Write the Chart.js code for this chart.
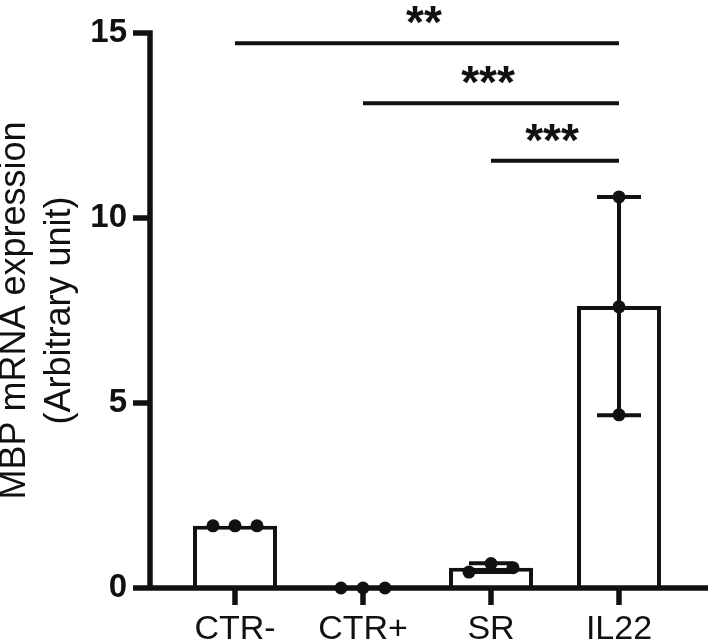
<!DOCTYPE html>
<html lang="en">
<head>
    <meta charset="UTF-8">
    <title>MBP mRNA expression</title>
    <style>
        html, body { margin: 0; padding: 0; background: #fff; }
        #wrap { width: 712px; height: 642px; }
    </style>
</head>
<body>
    <div id="wrap">
        <canvas id="myChart" width="712" height="642"></canvas>
    </div>

    <script src="https://cdn.jsdelivr.net/npm/chart.js"></script>

    <script>
        // groups and values
        const groups = ['CTR-', 'CTR+', 'SR', 'IL22'];
        const means = [1.68, 0, 0.55, 7.62];
        const sds = [0, 0, 0.12, 2.95];
        const replicates = [
            [1.68, 1.68, 1.68],
            [0, 0, 0],
            [0.43, 0.66, 0.55],
            [10.57, 7.6, 4.68]
        ];
        const yTicks = [0, 5, 10, 15];

        // significance brackets
        const sigFrom = [0, 1, 2];
        const sigTo = [3, 3, 3];
        const sigLevel = [14.72, 13.1, 11.55];
        const sigText = ['**', '***', '***'];

        const ink = '#111';
        const font = "'Liberation Sans', Arial, sans-serif";

        const prismAxes = {
            id: 'prismAxes',
            afterDatasetsDraw(chart) {
                const ctx = chart.ctx;
                const area = chart.chartArea;
                const y = chart.scales.y;
                const x = chart.scales.x;
                const axisX = area.left - 21;
                const base = y.getPixelForValue(0);

                ctx.save();
                ctx.strokeStyle = ink;
                ctx.fillStyle = ink;
                ctx.lineCap = 'butt';

                // error bars (mean +/- SD)
                ctx.lineWidth = 4;
                for (let i = 0; i < groups.length; i++) {
                    if (!sds[i]) continue;
                    const cx = x.getPixelForValue(i);
                    const hi = y.getPixelForValue(means[i] + sds[i]);
                    const lo = y.getPixelForValue(means[i] - sds[i]);
                    ctx.beginPath();
                    ctx.moveTo(cx, hi); ctx.lineTo(cx, lo);
                    ctx.moveTo(cx - 22, hi); ctx.lineTo(cx + 22, hi);
                    ctx.moveTo(cx - 22, lo); ctx.lineTo(cx + 22, lo);
                    ctx.stroke();
                }

                // axes
                ctx.lineWidth = 5.5;
                ctx.beginPath();
                ctx.moveTo(axisX, y.getPixelForValue(15) - 2.75);
                ctx.lineTo(axisX, base);
                ctx.moveTo(axisX - 17, base);
                ctx.lineTo(area.right + 25, base);
                for (const t of yTicks) {
                    const py = y.getPixelForValue(t);
                    ctx.moveTo(axisX - 17, py);
                    ctx.lineTo(axisX, py);
                }
                for (let i = 0; i < groups.length; i++) {
                    const px = x.getPixelForValue(i);
                    ctx.moveTo(px, base);
                    ctx.lineTo(px, base + 17);
                }
                ctx.stroke();

                // replicate dots; spread sideways only when they would overlap
                for (let i = 0; i < replicates.length; i++) {
                    const cx = x.getPixelForValue(i);
                    const vals = replicates[i];
                    const crowded = Math.max(...vals) - Math.min(...vals) < 1;
                    for (let j = 0; j < vals.length; j++) {
                        const dx = crowded ? (j - 1) * 22 : 0;
                        ctx.beginPath();
                        ctx.arc(cx + dx, y.getPixelForValue(vals[j]), 6.5, 0, Math.PI * 2);
                        ctx.fill();
                    }
                }

                // significance lines and stars
                ctx.lineWidth = 4;
                ctx.font = 'bold 46px ' + font;
                ctx.textAlign = 'center';
                ctx.textBaseline = 'alphabetic';
                for (let k = 0; k < sigText.length; k++) {
                    const x0 = x.getPixelForValue(sigFrom[k]);
                    const x1 = x.getPixelForValue(sigTo[k]);
                    const py = y.getPixelForValue(sigLevel[k]);
                    ctx.beginPath();
                    ctx.moveTo(x0, py);
                    ctx.lineTo(x1, py);
                    ctx.stroke();
                    ctx.fillText(sigText[k], (x0 + x1) / 2 - 3, py - 5);
                }
                ctx.restore();
            }
        };

        new Chart(document.getElementById('myChart'), {
            type: 'bar',
            data: {
                labels: groups,
                datasets: [{
                    data: means,
                    backgroundColor: '#fff',
                    borderColor: ink,
                    borderWidth: 4,
                    borderSkipped: 'start',
                    barPercentage: 0.656,
                    categoryPercentage: 1
                }]
            },
            options: {
                responsive: false,
                animation: false,
                layout: { padding: { top: 33, right: 29, left: 0, bottom: 0 } },
                plugins: {
                    legend: { display: false },
                    tooltip: { enabled: false }
                },
                scales: {
                    x: {
                        grid: { display: false, drawTicks: false },
                        border: { display: false },
                        ticks: {
                            color: ink,
                            padding: 21,
                            font: { family: font, size: 34 }
                        },
                        afterFit: (s) => { s.height = 54; }
                    },
                    y: {
                        min: 0,
                        max: 15,
                        grid: { display: false, drawTicks: false },
                        border: { display: false },
                        ticks: {
                            stepSize: 5,
                            color: ink,
                            padding: 44,
                            font: { family: font, size: 33, weight: 'bold' }
                        },
                        title: {
                            display: true,
                            text: ['MBP mRNA expression', '(Arbitrary unit)'],
                            color: ink,
                            padding: { top: -7, bottom: 0 },
                            font: { family: font, size: 36, lineHeight: 1.25 }
                        },
                        afterFit: (s) => {
                            s.width = 171;
                            s.paddingTop = 0;
                            s.paddingBottom = 0;
                        }
                    }
                }
            },
            plugins: [prismAxes]
        });
    </script>
</body>
</html>
